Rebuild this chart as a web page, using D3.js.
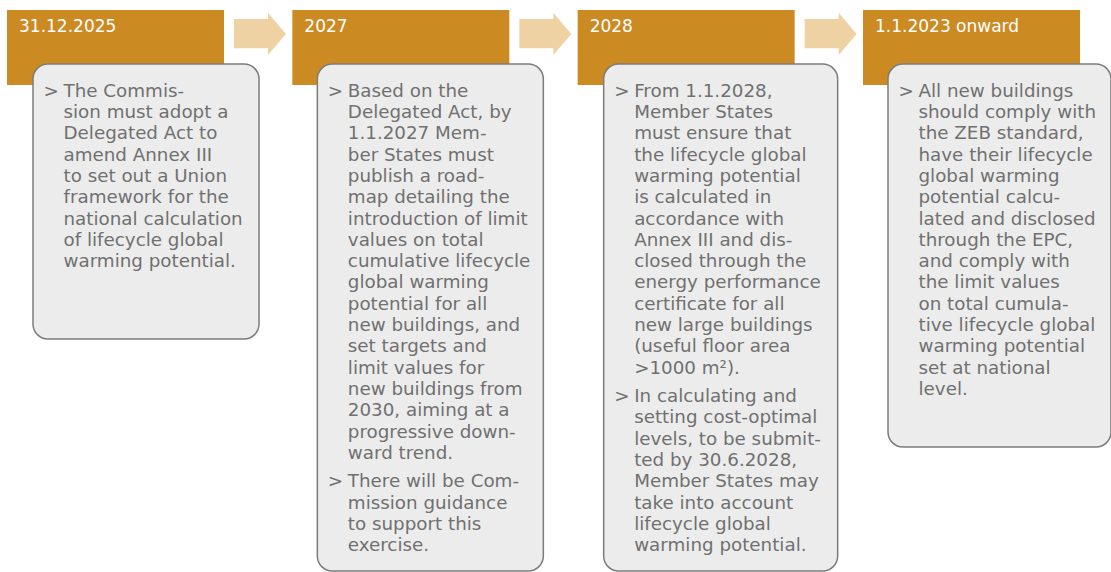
<!DOCTYPE html>
<html>
<head>
<meta charset="utf-8">
<script src="https://cdn.jsdelivr.net/npm/d3@7"></script>
<style>
  html, body { margin: 0; padding: 0; background: #ffffff; }
  svg { display: block; }
</style>
</head>
<body>
<svg id="chart" width="1111" height="572"></svg>
<script>
// ---- data ----
const stages = ["31.12.2025", "2027", "2028", "1.1.2023 onward"];

const bullets1 = [
  ["The Commis-", "sion must adopt a", "Delegated Act to", "amend Annex III", "to set out a Union",
   "framework for the", "national calculation", "of lifecycle global", "warming potential."]
];
const bullets2 = [
  ["Based on the", "Delegated Act, by", "1.1.2027 Mem-", "ber States must", "publish a road-",
   "map detailing the", "introduction of limit", "values on total", "cumulative lifecycle",
   "global warming", "potential for all", "new buildings, and", "set targets and",
   "limit values for", "new buildings from", "2030, aiming at a", "progressive down-", "ward trend."],
  ["There will be Com-", "mission guidance", "to support this", "exercise."]
];
const bullets3 = [
  ["From 1.1.2028,", "Member States", "must ensure that", "the lifecycle global", "warming potential",
   "is calculated in", "accordance with", "Annex III and dis-", "closed through the",
   "energy performance", "certificate for all", "new large buildings", "(useful floor area", ">1000 m\u00B2)."],
  ["In calculating and", "setting cost-optimal", "levels, to be submit-", "ted by 30.6.2028,",
   "Member States may", "take into account", "lifecycle global", "warming potential."]
];
const bullets4 = [
  ["All new buildings", "should comply with", "the ZEB standard,", "have their lifecycle",
   "global warming", "potential calcu-", "lated and disclosed", "through the EPC,",
   "and comply with", "the limit values", "on total cumula-", "tive lifecycle global",
   "warming potential", "set at national", "level."]
];
const columns = [bullets1, bullets2, bullets3, bullets4];

// ---- layout (styles / sizes) ----
const L = {
  headerW: 217, headerTop: 10, headerH: 75,
  boxOffset: [26, 25, 26, 25], boxW: [226, 226, 234, 223],
  boxTop: 64, boxBottom: [339, 571, 571, 447], rx: 15,
  lineH: 21.3, paraGap: 7.1, firstBaseline: 96.7,
  markerDx: 10.5, textDx: 30.5,
  orange: "#CC8A23", arrow: "#EFD2A4", boxFill: "#ECECEC", boxStroke: "#7C7C7C", text: "#707070",
  font: "'DejaVu Sans', Verdana, sans-serif"
};

const svg = d3.select("#chart");
const x = d3.scaleLinear().domain([0, stages.length - 1]).range([7, 863]);

const g = svg.selectAll("g.stage").data(stages).join("g").attr("class", "stage");

// header bars
g.append("rect")
  .attr("x", (d, i) => x(i))
  .attr("y", L.headerTop)
  .attr("width", L.headerW)
  .attr("height", L.headerH)
  .attr("fill", L.orange);

g.append("text")
  .attr("x", (d, i) => x(i) + 12)
  .attr("y", 32)
  .attr("fill", "#ffffff")
  .attr("font-family", L.font)
  .attr("font-size", 17)
  .text(d => d);

// arrows between headers
const arrowData = stages.slice(0, -1);
svg.selectAll("path.arrow").data(arrowData).join("path")
  .attr("class", "arrow")
  .attr("fill", L.arrow)
  .attr("d", (d, i) => {
    const x0 = x(i) + L.headerW + 10;
    const x1 = x0 + 34, x2 = x0 + 52;
    return `M${x0},19 L${x1},19 L${x1},12.7 L${x2},34 L${x1},55 L${x1},48.3 L${x0},48.3 Z`;
  });

// text boxes
g.append("rect")
  .attr("x", (d, i) => x(i) + L.boxOffset[i])
  .attr("y", L.boxTop)
  .attr("width", (d, i) => L.boxW[i])
  .attr("height", (d, i) => L.boxBottom[i] - L.boxTop)
  .attr("rx", L.rx).attr("ry", L.rx)
  .attr("fill", L.boxFill)
  .attr("stroke", L.boxStroke)
  .attr("stroke-width", 1.5);

g.each(function(d, i) {
  const grp = d3.select(this);
  const bx = x(i) + L.boxOffset[i];
  let y = L.firstBaseline;
  columns[i].forEach((para) => {
    grp.append("text")
      .attr("x", bx + L.markerDx)
      .attr("y", y)
      .attr("fill", L.text)
      .attr("font-family", L.font)
      .attr("font-size", 18.3)
      .text(">");
    para.forEach((line, k) => {
      grp.append("text")
        .attr("x", bx + L.textDx)
        .attr("y", y + k * L.lineH)
        .attr("fill", L.text)
        .attr("font-family", L.font)
        .attr("font-size", 18.3)
        .text(line);
    });
    y += para.length * L.lineH + L.paraGap;
  });
});
</script>
</body>
</html>
